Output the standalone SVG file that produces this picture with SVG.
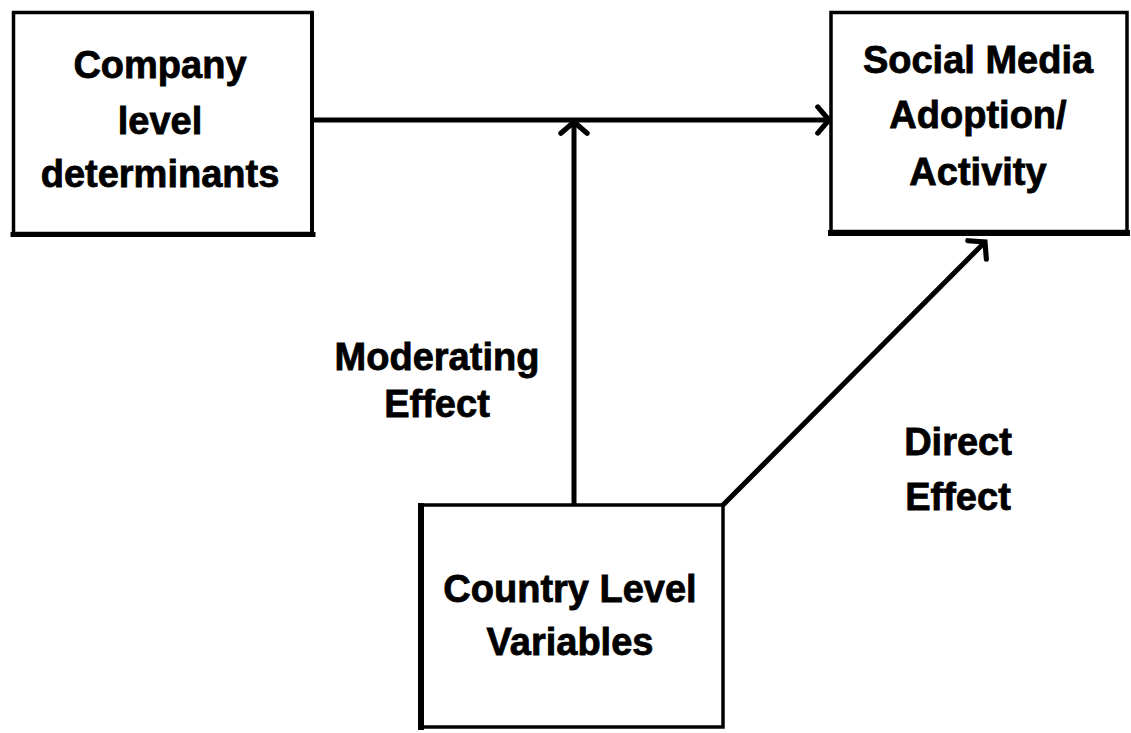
<svg xmlns="http://www.w3.org/2000/svg" width="1131" height="733" viewBox="0 0 1131 733">
  <style>
    .box { fill: #ffffff; stroke: #000000; stroke-width: 3.5; }
    .edge { stroke: #000000; stroke-linecap: square; }
    .label { font-family: "Liberation Sans", Arial, sans-serif; font-weight: bold; font-size: 38px; fill: #000000; stroke: #000000; stroke-width: 0.8; text-anchor: middle; }
    .conn { fill: none; stroke: #000000; stroke-width: 5; }
  </style>
  <defs>
    <marker id="chevron" markerUnits="userSpaceOnUse" markerWidth="30" markerHeight="30" refX="0" refY="0" viewBox="-16 -16 20 32" orient="auto" overflow="visible">
      <path d="M-12,-14 L0,0 L-12,14" fill="none" stroke="#000000" stroke-width="5.5" stroke-linecap="round" stroke-linejoin="miter"/>
    </marker>
  </defs>

  <!-- connectors -->
  <g id="connectors">
    <line class="conn" x1="314" y1="120" x2="829" y2="120" marker-end="url(#chevron)"/>
    <line class="conn" x1="574" y1="505" x2="574" y2="122" marker-end="url(#chevron)"/>
    <line class="conn" x1="722" y1="506" x2="985" y2="242" marker-end="url(#chevron)"/>
  </g>

  <!-- Company level determinants -->
  <g id="node-company">
    <rect class="box" x="13.5" y="12.5" width="298.5" height="221"/>
    <line class="edge" x1="13" y1="234.5" x2="313" y2="234.5" stroke-width="5"/>
    <line class="edge" x1="312" y1="14" x2="312" y2="234" stroke-width="4"/>
    <text class="label" x="160" y="78">Company</text>
    <text class="label" x="160" y="134">level</text>
    <text class="label" x="160" y="187">determinants</text>
  </g>

  <!-- Social Media Adoption/Activity -->
  <g id="node-social">
    <rect class="box" x="831" y="12.5" width="296" height="219"/>
    <line class="edge" x1="831" y1="233" x2="1127" y2="233" stroke-width="6"/>
    <text class="label" x="978" y="73">Social Media</text>
    <text class="label" x="978" y="128">Adoption/</text>
    <text class="label" x="978" y="185">Activity</text>
  </g>

  <!-- Country Level Variables -->
  <g id="node-country">
    <rect class="box" x="421" y="505" width="302" height="222"/>
    <line class="edge" x1="421" y1="506" x2="421" y2="727" stroke-width="6"/>
    <text class="label" x="570" y="602">Country Level</text>
    <text class="label" x="570" y="655">Variables</text>
  </g>

  <!-- edge labels -->
  <g id="label-moderating">
    <text class="label" x="437" y="370">Moderating</text>
    <text class="label" x="437" y="417">Effect</text>
  </g>
  <g id="label-direct">
    <text class="label" x="958" y="455">Direct</text>
    <text class="label" x="958" y="510">Effect</text>
  </g>
</svg>
